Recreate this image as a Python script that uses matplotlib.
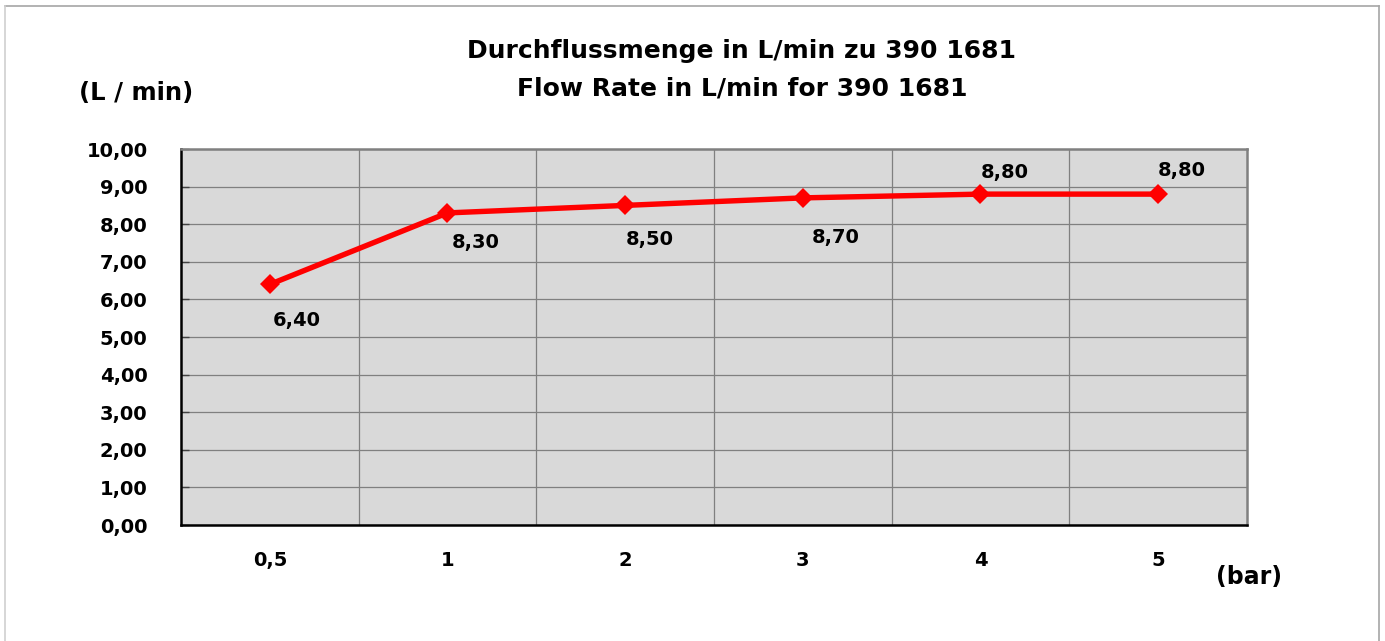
import matplotlib.pyplot as plt
from matplotlib.lines import Line2D

plt.rcParams['font.family'] = ['DejaVu Sans']
plt.rcParams['font.weight'] = 'bold'

pressure_labels = ['0,5', '1', '2', '3', '4', '5']
flow_rate = [6.40, 8.30, 8.50, 8.70, 8.80, 8.80]
value_labels = ['6,40', '8,30', '8,50', '8,70', '8,80', '8,80']
y_ticks = [0, 1, 2, 3, 4, 5, 6, 7, 8, 9, 10]

# label offsets in pixels (dx, dy) relative to each point
label_offsets = [(3, -36), (4, -30), (1, -34), (9, -40), (0, 22), (0, 24)]

W, H = 1385, 641
fig = plt.figure(figsize=(W / 100, H / 100), dpi=100)
ax = fig.add_axes([181 / W, 1 - 525 / H, 1066 / W, 376 / H])
ax.set_facecolor('#d9d9d9')

x = list(range(len(flow_rate)))
ax.plot(x, flow_rate, color='#ff0000', lw=3.9, marker='D', markersize=10,
        markeredgewidth=0, zorder=3)

for xi, v, lab, (dx, dy) in zip(x, flow_rate, value_labels, label_offsets):
    ax.annotate(lab, (xi, v), xytext=(dx, dy), textcoords='offset pixels',
                ha='left', va='center', fontsize=14, fontweight='bold', color='black')

ax.set_xlim(-0.5, len(x) - 0.5)
ax.set_ylim(0, 10)
ax.set_xticks(x)
ax.set_xticklabels(pressure_labels)
ax.set_xticks([i + 0.5 for i in x[:-1]], minor=True)
ax.set_yticks(y_ticks)
ax.set_yticklabels([f'{t:.2f}'.replace('.', ',') for t in y_ticks])

ax.grid(True, axis='y', which='major', color='#808080', lw=0.9)
ax.grid(True, axis='x', which='minor', color='#808080', lw=0.9)
ax.set_axisbelow(True)

ax.tick_params(axis='x', which='both', length=0, pad=19, labelsize=14)
ax.tick_params(axis='y', which='major', direction='in', length=6, width=1,
               color='#404040', pad=24, labelsize=14)
for t in ax.get_xticklabels() + ax.get_yticklabels():
    t.set_fontweight('bold')

for s in ['left', 'bottom']:
    ax.spines[s].set_color('black')
    ax.spines[s].set_linewidth(1.8)
for s in ['top', 'right']:
    ax.spines[s].set_color('#808080')
    ax.spines[s].set_linewidth(1.8)

fig.text(742 / W, 1 - 51 / H, 'Durchflussmenge in L/min zu 390 1681',
         ha='center', va='center', fontsize=18, fontweight='bold')
fig.text(742 / W, 1 - 89 / H, 'Flow Rate in L/min for 390 1681',
         ha='center', va='center', fontsize=18, fontweight='bold')
fig.text(136 / W, 1 - 93 / H, '(L / min)', ha='center', va='center',
         fontsize=17.5, fontweight='bold')
fig.text(1249 / W, 1 - 577 / H, '(bar)', ha='center', va='center',
         fontsize=17, fontweight='bold')

# outer frame
fig.add_artist(Line2D([5 / W, 1379 / W], [1 - 6 / H, 1 - 6 / H],
                      transform=fig.transFigure, color='#a6a6a6', lw=1.2))
fig.add_artist(Line2D([1379 / W, 1379 / W], [1 - 6 / H, 0],
                      transform=fig.transFigure, color='#a6a6a6', lw=1.2))
fig.add_artist(Line2D([5 / W, 5 / W], [1 - 6 / H, 0],
                      transform=fig.transFigure, color='#cfcfcf', lw=1.2))

fig.savefig('out.png', dpi=100)
